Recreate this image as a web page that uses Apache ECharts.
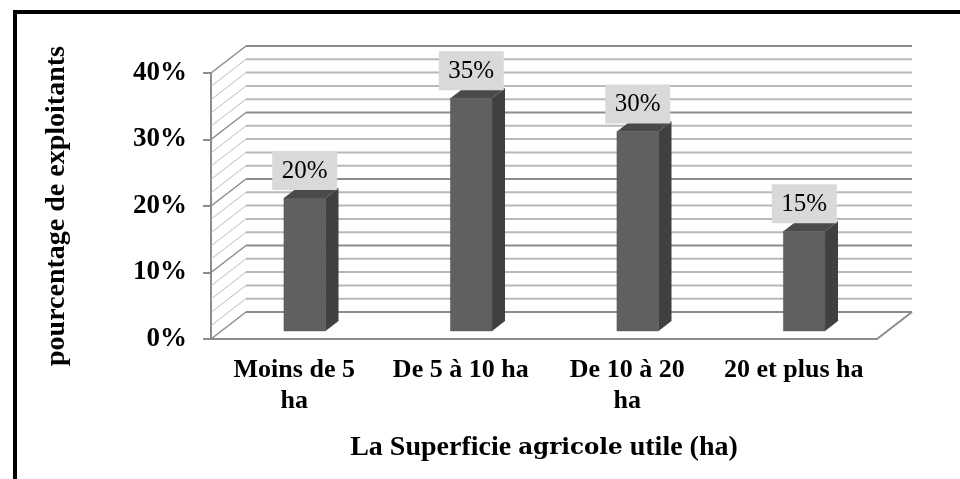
<!DOCTYPE html>
<html>
<head>
<meta charset="utf-8">
<script src="https://cdn.jsdelivr.net/npm/echarts@6/dist/echarts.min.js"></script>
<style>html,body{margin:0;padding:0;background:#fff}#c{width:960px;height:479px}</style>
</head>
<body>
<div id="c"></div>
<script>
const categories = ['Moins de 5\nha', 'De 5 à 10 ha', 'De 10 à 20\nha', '20 et plus ha'];
const values = [20, 35, 30, 15];
const yTicks = [0, 10, 20, 30, 40];
const gridLevels = [0, 2, 4, 6, 8, 10, 12, 14, 16, 18, 20, 22, 24, 26, 28, 30, 32, 34, 36, 38, 40];

const DX = 35, DY = -27;      // depth of the 3D box
const F0 = 0.30, F1 = 0.67;   // bar depth position
const SERIF = "'Liberation Serif','Times New Roman',serif";

const chart = echarts.init(document.getElementById('c'), null, {renderer: 'canvas'});

function wallItem(params, api) {
  const v = api.value(1);
  const cs = params.coordSys;
  const y = api.coord([0, v])[1];
  const x0 = cs.x, x1 = cs.x + cs.width;
  const major = v % 10 === 0;
  const children = [
    {type: 'line', shape: {x1: x0, y1: y, x2: x0 + DX, y2: y + DY},
     style: {stroke: major ? '#8c8c8c' : '#bdbdbd', lineWidth: major ? 1.5 : 1}},
    {type: 'line', shape: {x1: x0 + DX, y1: y + DY, x2: x1 + DX, y2: y + DY},
     style: {stroke: major ? '#8c8c8c' : '#b8b8b8', lineWidth: 2}}
  ];
  if (v === 0) {
    children.push({type: 'line', shape: {x1: x1 + DX, y1: y + DY, x2: x1, y2: y},
      style: {stroke: '#8c8c8c', lineWidth: 2}});
  }
  return {type: 'group', children};
}

function barItem(params, api) {
  const i = api.value(0), v = api.value(1);
  const base = api.coord([i, 0]);
  const top = api.coord([i, v]);
  const bw = api.size([1, 0])[0] * 0.25;
  const fx = base[0] + DX * F0 - bw / 2;
  const ty = top[1] + DY * F0;
  const by = base[1] + DY * F0;
  const ddx = DX * (F1 - F0), ddy = DY * (F1 - F0);
  const lw = 65, lh = 39;
  const lcx = fx + bw / 2;
  const lbot = ty + ddy + 2;
  return {type: 'group', children: [
    {type: 'rect', shape: {x: fx, y: ty, width: bw, height: by - ty},
     style: {fill: '#606060', stroke: '#555', lineWidth: 0.5}},
    {type: 'polygon', shape: {points: [[fx + bw, ty], [fx + bw + ddx, ty + ddy], [fx + bw + ddx, by + ddy], [fx + bw, by]]},
     style: {fill: '#404040'}},
    {type: 'polygon', shape: {points: [[fx, ty], [fx + ddx, ty + ddy], [fx + bw + ddx, ty + ddy], [fx + bw, ty]]},
     style: {fill: '#4a4a4a'}},
    {type: 'rect', shape: {x: lcx - lw / 2, y: lbot - lh, width: lw, height: lh},
     style: {fill: '#d9d9d9'}},
    {type: 'text', x: lcx, y: lbot - lh / 2 + 1,
     style: {text: v + '%', fill: '#000', font: '25px ' + SERIF, align: 'center', verticalAlign: 'middle'}}
  ]};
}

const option = {
  animation: false,
  backgroundColor: '#fff',
  grid: {left: 211, right: 83, top: 73, bottom: 140},
  xAxis: {
    type: 'category',
    data: categories,
    axisLine: {show: true, lineStyle: {color: '#8c8c8c', width: 2}},
    axisTick: {show: false},
    axisLabel: {color: '#000', fontFamily: SERIF, fontWeight: 'bold', fontSize: 26, lineHeight: 31, margin: 16, interval: 0},
    name: '{a|La Superficie }{b|agricole}{a| utile (ha)}',
    nameLocation: 'middle',
    nameGap: 94,
    nameTextStyle: {
      lineHeight: 30,
      rich: {
        a: {fontFamily: SERIF, fontWeight: 'bold', fontSize: 28, color: '#000', lineHeight: 30},
        b: {fontFamily: "'DejaVu Serif',serif", fontWeight: 'bold', fontSize: 23, color: '#000', lineHeight: 30}
      }
    }
  },
  yAxis: {
    type: 'value',
    min: yTicks[0], max: yTicks[yTicks.length - 1], interval: 10,
    axisLine: {show: true, lineStyle: {color: '#8c8c8c', width: 2}},
    axisTick: {show: true, length: 8, lineStyle: {color: '#8c8c8c', width: 2}},
    splitLine: {show: false},
    axisLabel: {formatter: '{value}%', color: '#000', fontFamily: SERIF, fontWeight: 'bold', fontSize: 27, margin: 24},
    name: 'pourcentage de exploitants',
    nameLocation: 'middle',
    nameGap: 140,
    nameTextStyle: {color: '#000', fontFamily: SERIF, fontWeight: 'bold', fontSize: 28}
  },
  graphic: [
    {type: 'line', shape: {x1: 13, y1: 12, x2: 960, y2: 12}, style: {stroke: '#000', lineWidth: 4}, z: 100},
    {type: 'line', shape: {x1: 15, y1: 10, x2: 15, y2: 479}, style: {stroke: '#000', lineWidth: 4}, z: 100}
  ],
  series: [
    {type: 'custom', renderItem: wallItem, data: gridLevels.map(v => [0, v]), z: 1, clip: false, silent: true},
    {type: 'custom', renderItem: barItem, data: values.map((v, i) => [i, v]), z: 3, clip: false}
  ]
};
chart.setOption(option);
</script>
</body>
</html>
